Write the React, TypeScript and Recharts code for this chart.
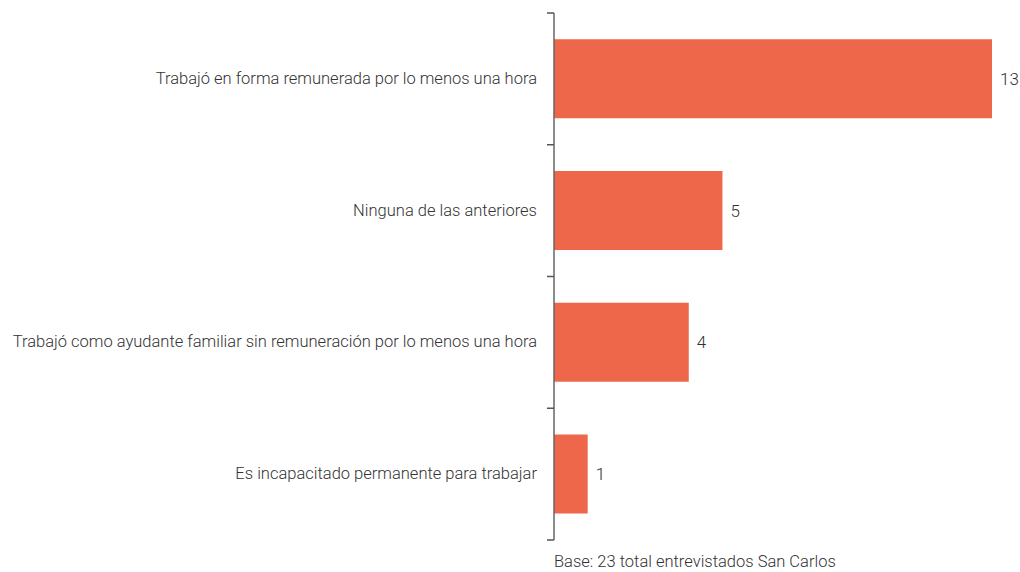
import React from "react";
import { BarChart, Bar, XAxis, YAxis, LabelList } from "recharts";

const categories = [
  "Trabajó en forma remunerada por lo menos una hora",
  "Ninguna de las anteriores",
  "Trabajó como ayudante familiar sin remuneración por lo menos una hora",
  "Es incapacitado permanente para trabajar",
];
const values = [13, 5, 4, 1];
const footnote = "Base: 23 total entrevistados San Carlos";

const data = categories.map((name, i) => ({ name, value: values[i] }));

const FONT = "'Roboto', sans-serif";
const TICK_SIZE = 7;
const TICK_MARGIN = 10;
const TEXT_SIZE = 16.5;

function CatTick(props: any) {
  const { x, y, payload, index, visibleTicksCount } = props;
  const half = payload && payload.offset ? payload.offset : 0;
  const lx1 = x + TICK_MARGIN;
  const lx2 = lx1 + TICK_SIZE;
  const isLast = index === (visibleTicksCount ?? categories.length) - 1;
  return (
    <g>
      <line x1={lx1} x2={lx2} y1={y - half} y2={y - half} stroke="#555" strokeWidth={1.5} />
      {isLast && (
        <line x1={lx1} x2={lx2} y1={y + half} y2={y + half} stroke="#555" strokeWidth={1.5} />
      )}
      <text
        x={x}
        y={y}
        dy="0.3em"
        textAnchor="end"
        fill="#333"
        fontSize={TEXT_SIZE}
        fontWeight={300}
        fontFamily={FONT}
      >
        {payload.value}
      </text>
    </g>
  );
}

export default function App() {
  return (
    <div style={{ position: "absolute", left: 0, top: 0, width: 1020, height: 572, background: "#fff" }}>
      <BarChart
        width={1020}
        height={572}
        data={data}
        layout="vertical"
        margin={{ top: 13, right: 28, bottom: 32, left: 0 }}
        barCategoryGap="20%"
      >
        <XAxis type="number" domain={[0, 13]} hide />
        <YAxis
          type="category"
          dataKey="name"
          width={554}
          tickSize={TICK_SIZE}
          tickMargin={TICK_MARGIN}
          axisLine={{ stroke: "#666", strokeWidth: 1.5 }}
          tickLine={false}
          tick={<CatTick />}
          interval={0}
        />
        <Bar dataKey="value" fill="#EF674A" isAnimationActive={false}>
          <LabelList
            dataKey="value"
            position="right"
            offset={8}
            style={{ fill: "#333", fontSize: 17, fontWeight: 300, fontFamily: FONT }}
          />
        </Bar>
      </BarChart>
      <div
        style={{
          position: "absolute",
          left: 554,
          top: 552,
          fontFamily: FONT,
          fontSize: TEXT_SIZE,
          fontWeight: 300,
          color: "#333",
          whiteSpace: "nowrap",
        }}
      >
        {footnote}
      </div>
    </div>
  );
}
